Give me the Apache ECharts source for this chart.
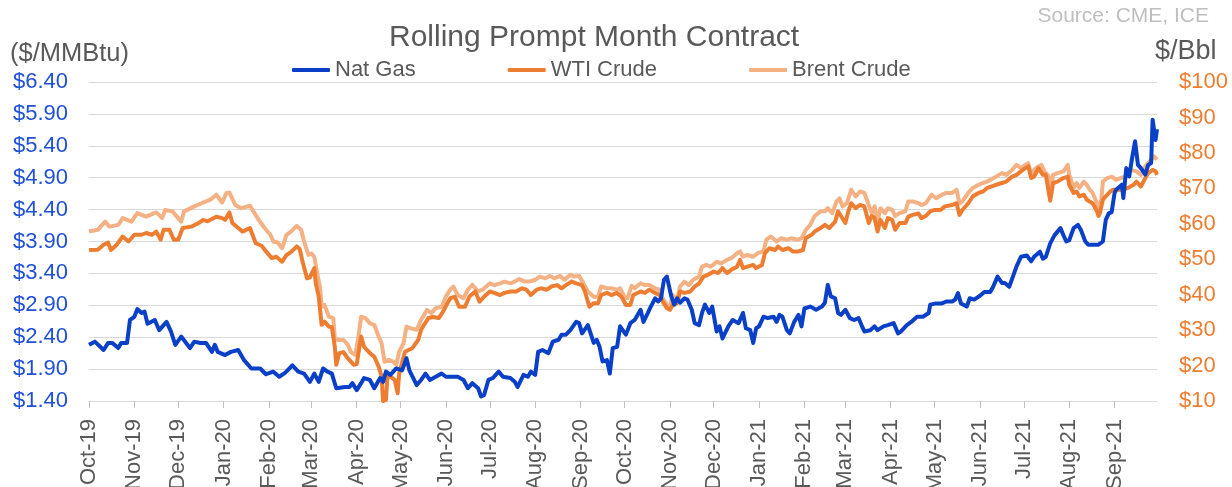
<!DOCTYPE html>
<html><head><meta charset="utf-8">
<script src="https://cdn.jsdelivr.net/npm/echarts@6/dist/echarts.min.js"></script>
<style>html,body{margin:0;padding:0;background:#fff}#c{width:1232px;height:487px}</style>
</head><body><div id="c"></div>
<script>
// ---- data (day offset from 2019-10-01, value) ----
const dayCount = 731; // 2019-10-01 .. 2021-09-30
const monthNames = ['Jan','Feb','Mar','Apr','May','Jun','Jul','Aug','Sep','Oct','Nov','Dec'];
const seriesNames = ['Nat Gas','WTI Crude','Brent Crude'];
const leftAxis = {min:1.4, max:6.4, step:0.5};
const rightAxis = {min:10, max:100, step:10};

const natGas = [[0,2.28],[4,2.33],[10,2.20],[13,2.31],[16,2.31],[20,2.23],[22,2.31],[26,2.31],[28,2.67],[31,2.72],[33,2.84],[36,2.78],[38,2.80],[40,2.61],[45,2.67],[48,2.51],[53,2.64],[56,2.49],[59,2.28],[63,2.41],[69,2.23],[72,2.33],[76,2.31],[80,2.31],[84,2.17],[86,2.28],[88,2.17],[93,2.12],[97,2.17],[102,2.20],[106,2.04],[111,1.91],[117,1.91],[121,1.82],[126,1.86],[130,1.78],[134,1.84],[139,1.96],[143,1.86],[147,1.83],[151,1.70],[154,1.83],[157,1.70],[160,1.91],[163,1.86],[166,1.83],[169,1.60],[175,1.62],[178,1.62],[180,1.68],[183,1.57],[186,1.68],[188,1.76],[192,1.73],[195,1.60],[199,1.76],[201,1.70],[203,1.86],[206,1.81],[210,1.91],[214,1.88],[217,2.07],[219,1.88],[224,1.65],[227,1.73],[230,1.83],[233,1.73],[241,1.83],[244,1.78],[252,1.78],[256,1.73],[259,1.60],[262,1.68],[266,1.60],[268,1.47],[270,1.49],[273,1.73],[276,1.76],[280,1.86],[283,1.78],[288,1.76],[291,1.70],[293,1.62],[297,1.81],[300,1.78],[302,1.86],[305,1.81],[307,2.17],[310,2.20],[314,2.15],[317,2.33],[321,2.36],[323,2.44],[326,2.44],[329,2.51],[333,2.64],[335,2.62],[337,2.46],[341,2.59],[345,2.31],[347,2.36],[349,2.25],[351,2.02],[354,2.04],[356,1.83],[358,2.23],[361,2.25],[363,2.57],[367,2.44],[370,2.62],[373,2.67],[377,2.83],[379,2.64],[382,2.78],[384,2.88],[387,3.01],[389,2.96],[391,3.01],[393,3.30],[395,3.35],[398,3.04],[400,2.91],[402,3.01],[404,2.94],[407,3.01],[409,2.99],[412,2.83],[414,2.62],[417,2.59],[419,2.78],[421,2.91],[424,2.78],[426,2.88],[429,2.49],[431,2.57],[433,2.38],[437,2.57],[440,2.67],[444,2.62],[447,2.78],[449,2.54],[452,2.51],[454,2.31],[456,2.54],[458,2.57],[461,2.72],[464,2.70],[468,2.72],[470,2.64],[472,2.75],[474,2.72],[477,2.51],[479,2.46],[482,2.64],[485,2.75],[487,2.57],[489,2.85],[493,2.88],[497,2.83],[501,2.88],[503,2.94],[505,3.22],[507,3.04],[510,3.01],[512,2.78],[514,2.75],[517,2.83],[520,2.70],[523,2.67],[526,2.70],[528,2.59],[530,2.49],[534,2.51],[537,2.57],[539,2.51],[543,2.57],[546,2.59],[550,2.62],[553,2.46],[555,2.49],[559,2.59],[562,2.64],[566,2.72],[570,2.72],[574,2.78],[575,2.91],[579,2.93],[583,2.93],[586,2.96],[590,2.96],[592,2.99],[594,3.09],[596,2.93],[600,2.88],[602,3.01],[605,2.99],[609,3.05],[612,3.11],[616,3.11],[618,3.19],[621,3.35],[624,3.25],[626,3.25],[629,3.19],[632,3.38],[634,3.51],[637,3.66],[641,3.68],[644,3.59],[646,3.66],[650,3.74],[652,3.63],[654,3.66],[657,3.87],[660,4.00],[664,4.11],[666,4.00],[668,3.90],[670,3.92],[673,4.11],[676,4.16],[678,4.08],[681,3.90],[683,3.85],[686,3.85],[690,3.85],[693,3.90],[695,4.24],[697,4.34],[699,4.36],[701,4.66],[702,4.71],[706,4.79],[707,4.58],[709,5.05],[711,4.92],[713,5.21],[715,5.47],[717,5.10],[719,5.05],[722,4.95],[724,5.10],[726,5.13],[727,5.81],[728,5.84],[729,5.49],[730,5.66]];

const wtiCrude = [[0,52.6],[6,52.7],[10,54.1],[13,54.7],[15,52.6],[19,54.1],[23,56.4],[27,55.0],[31,56.9],[36,56.9],[39,57.4],[43,56.9],[46,57.8],[49,55.5],[51,58.3],[55,58.3],[58,55.5],[61,55.5],[64,58.8],[70,59.2],[75,60.2],[78,61.1],[81,60.7],[87,62.0],[91,61.6],[93,61.1],[96,63.2],[98,60.2],[102,58.8],[105,57.8],[110,58.8],[114,54.5],[118,53.8],[121,52.2],[125,50.3],[128,50.7],[132,49.3],[135,51.2],[138,52.0],[142,53.6],[144,52.9],[146,49.3],[149,44.6],[151,44.9],[154,47.5],[155,43.2],[157,39.5],[159,31.5],[161,32.4],[164,31.0],[166,30.8],[168,25.3],[169,20.2],[171,23.5],[174,23.8],[176,22.5],[179,21.1],[181,20.2],[183,20.4],[186,28.2],[188,25.3],[192,23.5],[195,22.5],[198,19.7],[200,16.9],[201,10.0],[203,10.3],[204,17.3],[207,16.6],[209,15.9],[211,12.2],[212,17.8],[216,23.9],[218,24.3],[221,24.9],[225,27.2],[227,30.1],[229,31.5],[232,33.4],[235,33.7],[239,33.4],[242,35.2],[245,37.6],[247,39.0],[250,39.4],[253,36.6],[257,36.6],[260,39.5],[264,40.9],[267,38.0],[270,39.4],[274,40.9],[277,40.5],[281,39.9],[284,40.5],[288,40.9],[292,40.9],[296,41.8],[299,41.4],[302,39.9],[306,41.4],[309,41.8],[313,41.4],[316,42.3],[320,42.7],[323,41.8],[326,42.7],[330,43.7],[333,43.2],[337,42.7],[339,40.9],[342,36.6],[345,37.6],[348,37.6],[350,39.9],[354,40.5],[357,39.9],[361,40.5],[364,39.4],[367,37.1],[370,37.1],[372,39.9],[377,40.9],[380,40.5],[383,41.4],[387,40.5],[390,39.9],[392,38.1],[395,36.2],[397,35.7],[399,37.1],[402,37.6],[404,40.9],[407,40.5],[411,40.9],[414,42.3],[417,43.2],[420,45.1],[423,45.6],[427,46.5],[430,46.1],[433,47.5],[436,46.1],[439,47.0],[443,47.9],[445,49.8],[447,47.5],[450,47.9],[454,48.4],[456,47.5],[460,48.4],[462,51.7],[465,53.1],[469,52.6],[471,53.6],[474,52.6],[478,53.1],[481,52.2],[485,52.2],[488,52.6],[490,56.0],[494,56.9],[496,57.8],[500,58.8],[503,59.7],[506,58.8],[510,60.6],[512,63.5],[514,62.2],[517,60.2],[519,63.5],[521,65.8],[524,64.4],[527,65.3],[530,64.9],[533,60.2],[535,62.2],[537,61.6],[539,57.8],[541,61.1],[544,58.8],[546,61.6],[549,61.1],[551,58.3],[554,60.2],[558,60.2],[560,62.0],[563,62.5],[567,62.9],[569,61.6],[572,62.2],[575,63.5],[578,63.9],[582,63.9],[585,64.9],[590,65.3],[593,65.8],[595,62.5],[597,63.9],[601,65.8],[604,67.7],[608,68.7],[611,69.1],[614,70.1],[620,71.0],[624,71.5],[627,71.9],[631,73.3],[634,73.8],[637,74.8],[640,75.7],[642,76.2],[644,72.9],[646,73.3],[649,75.7],[652,73.8],[654,73.8],[657,66.5],[659,71.5],[662,71.9],[666,72.9],[669,73.3],[670,71.0],[673,68.7],[675,69.1],[677,67.7],[680,68.2],[682,66.8],[684,66.3],[686,65.8],[689,63.5],[690,62.2],[691,63.0],[693,66.8],[696,68.2],[698,69.1],[700,69.6],[703,69.6],[707,69.6],[710,70.1],[714,71.0],[716,71.9],[719,70.5],[722,72.9],[724,74.3],[727,75.2],[729,74.8],[730,73.8]];

const brentCrude = [[0,57.8],[6,58.3],[11,60.6],[14,59.2],[20,59.7],[23,61.6],[29,60.6],[33,63.0],[39,62.0],[46,63.2],[50,61.6],[52,63.9],[57,63.5],[63,60.6],[65,63.5],[72,64.9],[77,65.8],[83,66.8],[87,68.2],[91,66.0],[94,68.7],[96,68.8],[100,65.3],[104,64.4],[110,65.1],[116,61.1],[120,58.8],[124,56.9],[126,55.0],[129,54.7],[132,53.1],[135,56.9],[138,57.8],[142,59.4],[145,58.3],[147,55.0],[150,51.2],[152,51.6],[154,50.7],[156,46.1],[158,41.8],[159,36.6],[161,37.1],[164,33.8],[167,33.4],[168,27.7],[170,27.2],[174,27.2],[177,25.8],[179,23.8],[182,23.0],[184,27.7],[186,33.8],[189,33.4],[192,31.9],[195,31.5],[198,28.2],[200,26.3],[202,21.1],[205,21.6],[208,21.1],[210,20.2],[212,23.9],[215,26.3],[217,31.0],[220,30.5],[224,30.1],[227,32.9],[231,35.7],[234,34.8],[237,36.2],[241,36.6],[244,39.5],[247,41.4],[249,42.3],[252,39.9],[256,39.0],[259,41.4],[262,42.8],[266,40.9],[269,41.4],[274,43.2],[277,42.7],[281,43.2],[284,43.7],[288,43.2],[291,43.7],[294,44.4],[298,43.7],[301,43.7],[305,44.2],[308,45.1],[312,44.6],[315,45.3],[318,44.6],[322,45.3],[325,44.2],[329,45.6],[332,45.1],[335,45.3],[338,43.2],[341,40.9],[345,39.4],[348,39.4],[350,42.3],[354,41.8],[357,41.8],[361,41.4],[363,41.8],[366,39.4],[368,39.0],[371,42.5],[373,41.8],[377,43.2],[380,42.7],[383,42.7],[387,41.8],[390,41.4],[392,39.0],[395,37.1],[397,36.6],[399,39.9],[402,38.5],[404,42.3],[407,43.7],[410,42.7],[413,44.2],[417,45.1],[419,47.9],[422,48.4],[425,47.9],[429,49.3],[432,48.8],[436,49.8],[439,50.3],[443,51.7],[445,52.2],[447,50.7],[450,51.2],[454,50.7],[457,51.7],[461,52.2],[463,55.5],[466,56.4],[470,55.0],[473,55.9],[477,55.5],[480,55.9],[484,55.5],[487,55.9],[490,58.3],[493,59.7],[496,62.2],[500,63.5],[503,63.5],[505,64.4],[508,63.0],[511,66.3],[513,67.2],[515,64.9],[518,65.8],[521,69.6],[524,67.7],[527,69.1],[530,68.7],[533,65.3],[535,63.0],[537,64.9],[539,60.7],[541,64.4],[544,63.0],[546,64.4],[549,63.9],[551,62.2],[554,63.0],[558,63.5],[560,66.3],[563,66.3],[567,65.8],[569,65.3],[572,65.8],[576,68.2],[579,67.2],[583,68.2],[586,68.7],[590,68.7],[593,69.6],[595,65.8],[597,66.3],[601,68.7],[604,70.1],[608,71.0],[611,71.5],[614,71.9],[620,73.3],[624,74.3],[627,73.8],[631,75.2],[634,76.6],[637,75.7],[640,76.6],[642,77.1],[644,73.8],[646,75.2],[649,76.2],[651,76.6],[653,74.8],[656,73.3],[657,68.5],[659,73.8],[662,74.3],[666,74.8],[669,76.6],[670,73.8],[673,70.1],[675,71.5],[677,70.1],[680,71.9],[682,71.0],[684,69.6],[686,68.7],[689,65.8],[690,63.9],[692,66.8],[693,71.9],[696,72.9],[699,73.3],[702,72.4],[705,72.9],[709,73.3],[712,75.2],[716,74.8],[719,73.8],[722,76.2],[726,78.1],[728,79.0],[730,78.1]];

// ---- build categories (calendar days) ----
const days = [];
const t0 = Date.UTC(2019, 9, 1);
for (let i = 0; i < dayCount; i++) days.push(new Date(t0 + i * 86400000).toISOString().slice(0, 10));
const isMonthStart = (idx, val) => String(val).slice(8, 10) === '01';
const monthLabel = val => monthNames[+val.slice(5, 7) - 1] + '-' + val.slice(2, 4);

const FONT = "'Liberation Sans', Arial, Helvetica, sans-serif";
const GRAY = '#595959';
const C_NG = '#0A40C8', C_WTI = '#ED7D31', C_BRENT = '#F4B183';

const chart = echarts.init(document.getElementById('c'), null, {renderer: 'canvas'});
chart.setOption({
  animation: false,
  backgroundColor: '#fff',
  textStyle: {fontFamily: FONT},
  title: [
    {text: 'Rolling Prompt Month Contract', left: 389, top: 23, padding: 0,
     textStyle: {fontSize: 30, fontWeight: 'normal', color: GRAY, fontFamily: FONT}},
    {text: 'Source: CME, ICE', right: 23, top: 6, padding: 0,
     textStyle: {fontSize: 21, fontWeight: 'normal', color: '#BFBFBF', fontFamily: FONT}},
    {text: '($/MMBtu)', left: 10, top: 41, padding: 0,
     textStyle: {fontSize: 25.5, fontWeight: 'normal', color: GRAY, fontFamily: FONT}},
    {text: '$/Bbl', left: 1155, top: 38, padding: 0,
     textStyle: {fontSize: 27, fontWeight: 'normal', color: GRAY, fontFamily: FONT}}
  ],
  legend: {
    data: seriesNames, left: 292, top: 59, padding: 0,
    icon: 'roundRect', itemWidth: 38, itemHeight: 4, itemGap: 92,
    textStyle: {fontSize: 22, color: GRAY, fontFamily: FONT}
  },
  grid: {left: 89, right: 75, top: 82, bottom: 86, containLabel: false, outerBoundsMode: 'none'},
  xAxis: {
    type: 'category', data: days, boundaryGap: false,
    axisLine: {lineStyle: {color: '#D9D9D9', width: 1}},
    axisTick: {show: true, interval: isMonthStart, length: 7, lineStyle: {color: '#BFBFBF'}},
    axisLabel: {interval: isMonthStart, rotate: 90, margin: 18, fontSize: 22, color: GRAY,
      fontFamily: FONT, formatter: monthLabel},
    splitLine: {show: false}
  },
  yAxis: [
    {type: 'value', min: leftAxis.min, max: leftAxis.max, interval: leftAxis.step, position: 'left',
     axisLine: {show: false}, axisTick: {show: false},
     axisLabel: {margin: 21, fontSize: 22, color: '#1F50D6', fontFamily: FONT,
       formatter: v => '$' + v.toFixed(2)},
     splitLine: {show: true, lineStyle: {color: '#D9D9D9', width: 1}}},
    {type: 'value', min: rightAxis.min, max: rightAxis.max, interval: rightAxis.step, position: 'right',
     axisLine: {show: false}, axisTick: {show: false},
     axisLabel: {margin: 22, fontSize: 22, color: C_WTI, fontFamily: FONT,
       formatter: v => '$' + Math.round(v)},
     splitLine: {show: false}}
  ],
  series: [
    {name: 'Brent Crude', type: 'line', yAxisIndex: 1, data: brentCrude, symbol: 'none',
     lineStyle: {color: C_BRENT, width: 4, join: 'round'}, itemStyle: {color: C_BRENT}, z: 2},
    {name: 'WTI Crude', type: 'line', yAxisIndex: 1, data: wtiCrude, symbol: 'none',
     lineStyle: {color: C_WTI, width: 4, join: 'round'}, itemStyle: {color: C_WTI}, z: 3},
    {name: 'Nat Gas', type: 'line', yAxisIndex: 0, data: natGas, symbol: 'none',
     lineStyle: {color: C_NG, width: 4, join: 'round'}, itemStyle: {color: C_NG}, z: 4}
  ]
});
</script></body></html>
